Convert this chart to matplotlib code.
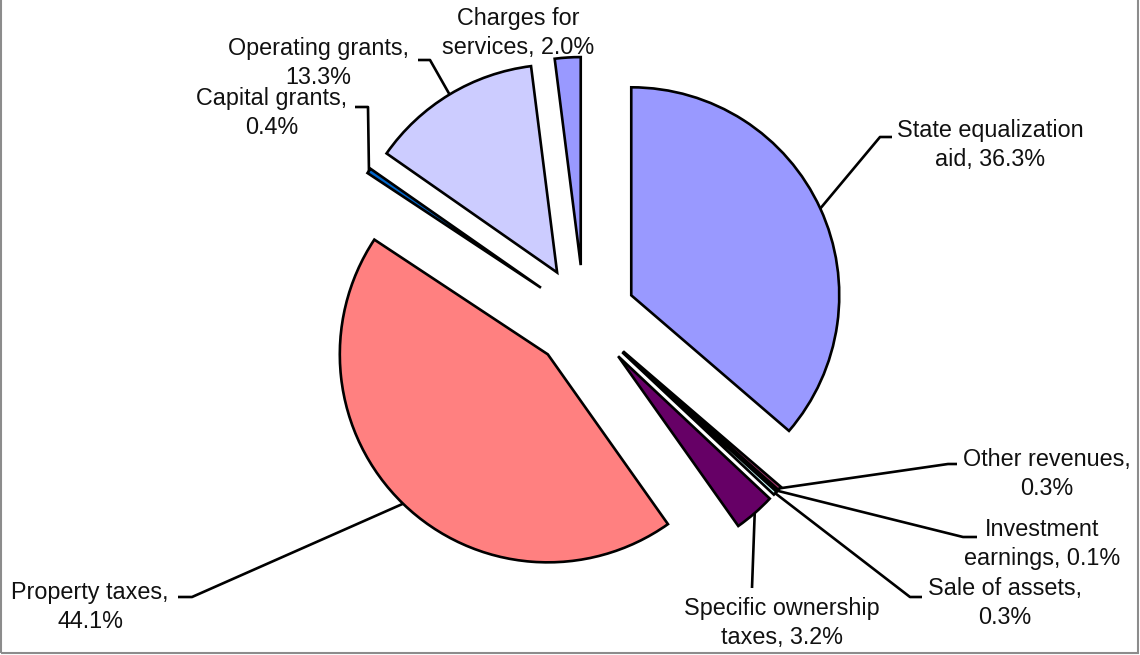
import math

import matplotlib.pyplot as plt
from matplotlib.patches import Rectangle


LABELS = [
    "State equalization\naid, 36.3%",
    "Other revenues,\n0.3%",
    "Investment\nearnings, 0.1%",
    "Sale of assets,\n0.3%",
    "Specific ownership\ntaxes, 3.2%",
    "Property taxes,\n44.1%",
    "Capital grants,\n0.4%",
    "Operating grants,\n13.3%",
    "Charges for\nservices, 2.0%",
]

SHARES = [36.3, 0.3, 0.1, 0.3, 3.2, 44.1, 0.4, 13.3, 2.0]

COLORS = [
    "#9999FF",
    "#993366",
    "#FFFFCC",
    "#CCFFFF",
    "#660066",
    "#FF8080",
    "#0066CC",
    "#CCCCFF",
    "#9999FF",
]

W, H = 1140, 655

# label layout in pixel coords (from top-left): text centre, elbow point, elbow end
TEXT_POS = [
    (990, 145), (1047, 474), (1042, 544), (1005, 603), (782, 623),
    (90, 607), (272, 113), (318, 63), (518, 33),
]
ELBOWS = [
    ((880, 137), (892, 137)),
    ((948, 464), (957, 464)),
    ((963, 537), (977, 537)),
    ((910, 597), (922, 597)),
    ((752, 588), None),
    ((192, 597), (178, 597)),
    ((368, 107), (355, 107)),
    ((430, 60), (418, 60)),
    None,
]


def flip(p):
    return p[0], H - p[1]


def main():
    fig = plt.figure(figsize=(W / 100, H / 100), dpi=100)
    ax = fig.add_axes([0, 0, 1, 1])

    wedges, _ = ax.pie(
        SHARES,
        colors=COLORS,
        startangle=90,
        counterclock=False,
        radius=208,
        center=(584, H - 317),
        explode=[52] * len(SHARES),
        wedgeprops={"edgecolor": "black", "linewidth": 1.9},
    )

    ax.set_xlim(0, W)
    ax.set_ylim(0, H)
    ax.set_aspect("equal")
    ax.axis("off")

    for wedge, label, pos, elbow in zip(wedges, LABELS, TEXT_POS, ELBOWS):
        ax.text(
            *flip(pos),
            label,
            ha="center",
            va="center",
            fontsize=16.8,
            family="Liberation Sans",
            linespacing=1.3,
            color="#111111",
        )

        if elbow is None:
            continue

        mid = math.radians(0.5 * (wedge.theta1 + wedge.theta2))
        cx, cy = wedge.center
        anchor = (cx + wedge.r * math.cos(mid), cy + wedge.r * math.sin(mid))

        pts = [anchor, flip(elbow[0])]
        if elbow[1] is not None:
            pts.append(flip(elbow[1]))

        ax.plot(
            [p[0] for p in pts],
            [p[1] for p in pts],
            color="black",
            linewidth=1.9,
            solid_capstyle="butt",
            zorder=0,
        )

    fig.patches.append(
        Rectangle(
            (0.001, 0.003),
            0.997,
            1.2,
            transform=fig.transFigure,
            fill=False,
            edgecolor="#8c8c8c",
            linewidth=1.5,
        )
    )

    fig.savefig("out.png", dpi=100)
    plt.close(fig)


if __name__ == "__main__":
    main()
